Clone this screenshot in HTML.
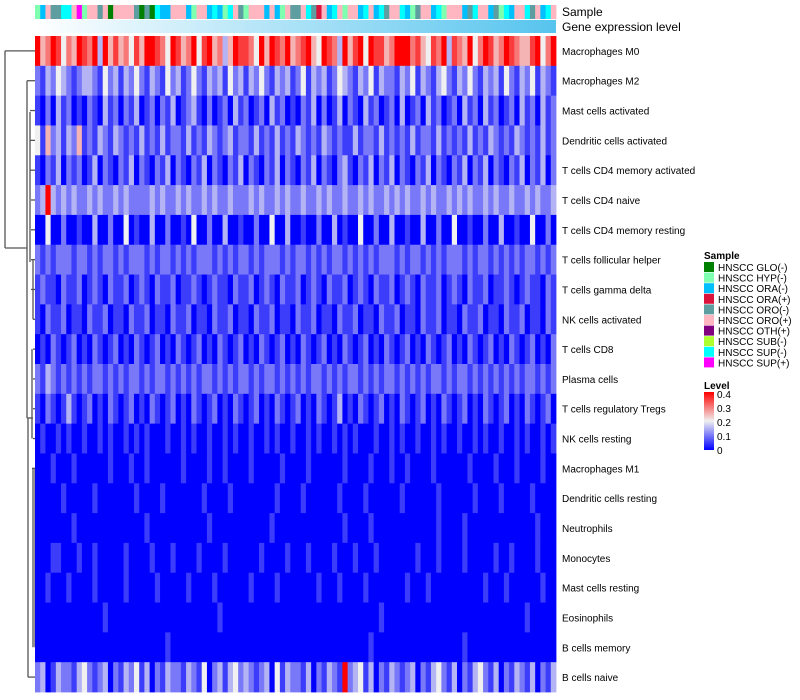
<!DOCTYPE html>
<html><head><meta charset="utf-8"><style>
body{margin:0;background:#fff;font-family:"Liberation Sans",sans-serif}
svg{display:block}
</style></head><body>
<svg id="c" width="800" height="700" xmlns="http://www.w3.org/2000/svg">
<defs>
<linearGradient id="gel" x1="0" x2="1" y1="0" y2="0"><stop offset="0" stop-color="#ffffff"/><stop offset="1" stop-color="#56c4ee"/></linearGradient>
<linearGradient id="lev" x1="0" x2="0" y1="1" y2="0"><stop offset="0" stop-color="#0000ff"/><stop offset="0.5" stop-color="#f0f0f0"/><stop offset="1" stop-color="#ff0000"/></linearGradient>
</defs>
<g id="dend" stroke="#555" stroke-width="1.3" fill="none"></g>
<g id="ann"></g>
<rect x="35" y="20" width="521" height="13" fill="url(#gel)"/>
<text x="562" y="16" font-size="12">Sample</text>
<text x="562" y="31" font-size="12">Gene expression level</text>
<g id="cells"></g>
<g id="labels" font-size="10"></g>
<g id="legend" font-size="10"></g>
<g>
<text x="704" y="389" font-size="10" font-weight="bold">Level</text>
<rect x="704" y="392" width="10" height="58" fill="url(#lev)"/>
</g>
<g id="levticks" font-size="10"></g>
</svg>
<script>
const rowNames=["Macrophages M0","Macrophages M2","Mast cells activated","Dendritic cells activated","T cells CD4 memory activated","T cells CD4 naive","T cells CD4 memory resting","T cells follicular helper","T cells gamma delta","NK cells activated","T cells CD8","Plasma cells","T cells regulatory  Tregs","NK cells resting","Macrophages M1","Dendritic cells resting","Neutrophils","Monocytes","Mast cells resting","Eosinophils","B cells memory","B cells naive"];
const rowValues=[
"8568746587 6838575647 5887648756 8478563587 7648587685 6785487638 5784877568 8867547683 7658468756 8765578468",
"2132432123 3214231324 2132142312 4213231423 1324213231 2413231243 2132413221 3241321342 1324213231 4213241321",
"1020312010 2103120213 0120213012 3102012031 2012031201 0213020130 2103120120 3012031201 2031203120 1203120312",
"4152313251 2132132121 3121312213 1213212312 2131213121 3212132121 1312213121 2131221312 1213121321 2132121312",
"1021302120 1302102130 2102130210 2130210213 0210213021 0213021023 1021302130 2102130210 2130213021 0213021302",
"2383232322 3232232322 2232322323 2232322322 2323223232 2322323223 2232322323 2322323223 2323223232 2322323223",
"0040020010 0300200401 0030020010 4002003001 0020040030 0100200301 0040020030 0100300200 4001002003 0010040020",
"2121222122 1212212122 2121221212 1222121212 2121222121 2212121221 2121212221 2122121212 2212122121 2121221212",
"1211021120 1210211201 2102112011 2101211021 1201210211 2012102112 0121021120 1210211201 2102112011 2101211021",
"1021120110 2112011021 1201102112 0110211201 1021120110 2112011021 1201102112 0110211201 1021120110 2112011021",
"0102101201 0210120102 1012010210 1201021012 0102101201 0210120102 1012010210 1201021012 0102101201 0210120102",
"2132121212 1221212122 1212212121 2122121212 2121221212 1212212121 2212121221 2121212212 1221212121 2121221212",
"1021013101 2010210120 1021012010 2101201021 0120102101 2010210130 1021012010 2101201021 0120102101 2010210120",
"0100101001 0010100101 0100010010 1001001010 0100101001 0010100101 0100010010 1001001010 0100101001 0010100101",
"0001000100 0000100010 0100000010 0001001000 0100000100 0010000001 0000100010 0100001000 0001000010 0010000100",
"0000010000 0100000001 0000100000 0010000100 0000001000 0100000010 0001000000 1000000100 0000100001 0000010000",
"0000000100 0000000000 0100000000 0001000000 0000010000 0000000001 0000100000 0000000100 0010000000 0000001000",
"0001100010 0100000100 0010001000 0100001000 0001000010 0010000100 0100010000 0001000100 0010000010 0100001000",
"0010001000 0100000100 0001000001 0000100000 0100001000 0000100010 0001000000 0100010000 0000001000 1000000100",
"0000000000 0001000000 0000000000 0000010000 0000000000 0000000000 0000001000 0000000000 0000000000 0000100000",
"0000000000 0000000000 0000010000 0000000000 0000000000 0000000000 0000100000 0000000000 0010000000 0000000000",
"2301322134 2123021324 1302132213 2140231342 3212304132 2130213218 2341302132 1230213421 3021342130 2132130213"];
const sampleSeq="BCFEEIIFJB FFEFAFFFFE AEAICCFFFC BFFCICBIFE BFFFCFCBFE EFIEDFCIFB FFCIFCIEFF ICBEFFCIBF FFCEIFFCEB ICFFIEFCIF";
const sampleCats=["HNSCC GLO(-)","HNSCC HYP(-)","HNSCC ORA(-)","HNSCC ORA(+)","HNSCC ORO(-)","HNSCC ORO(+)","HNSCC OTH(+)","HNSCC SUB(-)","HNSCC SUP(-)","HNSCC SUP(+)"];
const sampleColors=["#008000","#7fffb0","#00bfff","#dc143c","#5f9ea0","#ffb6c1","#800080","#adff2f","#00ffff","#ff00ff"];
const levelTicks=[0,0.1,0.2,0.3,0.4];
const ns="http://www.w3.org/2000/svg";
function mk(t,a,p){const e=document.createElementNS(ns,t);for(const k in a)e.setAttribute(k,a[k]);p.appendChild(e);return e;}
const X0=35,X1=556,Y0=36,Y1=692;
const rh=(Y1-Y0)/rowNames.length;
function lerp(a,b,t){return Math.round(a+(b-a)*t);}
function color(v){const t=Math.max(0,Math.min(1,v/0.4));
 if(t<0.5){const s=t/0.5;return `rgb(${lerp(0,240,s)},${lerp(0,240,s)},${lerp(255,240,s)})`;}
 const s=(t-0.5)/0.5;return `rgb(${lerp(240,255,s)},${lerp(240,0,s)},${lerp(240,0,s)})`;}
const cells=document.getElementById('cells');
rowValues.forEach((str,r)=>{const d=str.replace(/ /g,'');const cw=(X1-X0)/d.length;
 for(let i=0;i<d.length;i++){const v=(+d[i])*0.05;
  const e=mk('rect',{x:X0+i*cw,y:Y0+r*rh,width:cw+0.4,height:rh+0.4,fill:color(v)},cells);
  
  }
 const t=mk('text',{x:562,y:Y0+r*rh+rh/2+4},document.getElementById('labels'));t.textContent=rowNames[r];
 
 
});
const ann=document.getElementById('ann');const seq=sampleSeq.replace(/ /g,'');const aw=(X1-X0)/seq.length;
for(let i=0;i<seq.length;i++){const e=mk('rect',{x:X0+i*aw,y:5,width:aw+0.4,height:14,fill:sampleColors[seq.charCodeAt(i)-65]},ann);
 
 }
const lg=document.getElementById('legend');
mk('text',{x:704,y:259,'font-weight':'bold'},lg).textContent="Sample";
sampleCats.forEach((c,i)=>{const y=262+i*10.6;
 const r=mk('rect',{x:704,y:y,width:10,height:10,fill:sampleColors[i]},lg);
 
 
 const t=mk('text',{x:718,y:y+9},lg);t.textContent=c;
 
 });
const lt=document.getElementById('levticks');
levelTicks.forEach(v=>{const y=450-v/0.4*56;const t=mk('text',{x:717,y:y+4},lt);t.textContent=String(v);
 
 });
const dg=document.getElementById('dend');
const cy=r=>Y0+r*rh+rh/2;
const segs=[[5,cy(0),35,cy(0)],[5,cy(0),5,248],[5,248,27,248],[27,cy(1),27,418],[27,cy(1),35,cy(1)],
[30,112,30,262],[30,cy(2),35,cy(2)],[30,cy(3),35,cy(3)],[30,cy(4),35,cy(4)],[31,cy(5),35,cy(5)],[31,cy(6),35,cy(6)],
[31,cy(7),35,cy(7)],[31,cy(8),35,cy(8)],[33,cy(7),33,cy(9)],[33,cy(9),35,cy(9)],[33,cy(10),35,cy(10)],[32,cy(10),32,cy(13)],
[33,cy(11),35,cy(11)],[33,cy(12),35,cy(12)],[33,cy(13),35,cy(13)],[35,cy(14),35,cy(20)],[28,418,28,cy(21)],[28,cy(21),35,cy(21)],
[32,cy(14),35,cy(14)],[33,cy(14),33,cy(20)],[27,418,33,418]];
segs.forEach(s=>{const l=mk('line',{x1:s[0],y1:s[1],x2:s[2],y2:s[3]},dg);
 
 });
</script>
</body></html>
